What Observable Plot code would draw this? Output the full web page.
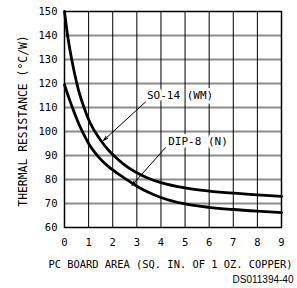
<!DOCTYPE html>
<html>
<head>
<meta charset="utf-8">
<script src="https://cdn.jsdelivr.net/npm/d3@7"></script>
<script src="https://cdn.jsdelivr.net/npm/@observablehq/plot@0.6"></script>
<style>
  html, body { margin: 0; padding: 0; background: white; }
</style>
</head>
<body>
<div id="chart"></div>
<script>
// Data
const so14X = [0, 0.1, 0.2, 0.3, 0.4, 0.5, 0.6, 0.8, 1, 1.2, 1.4, 1.6, 1.8, 2, 2.5, 3, 3.5, 4, 5, 6, 7, 8, 9];
const so14Y = [150, 142, 135.5, 130, 125, 120.5, 116.5, 110.3, 105, 101, 97.8, 95, 92.5, 90.4, 86, 82.8, 80.4, 78.7, 76.5, 75.2, 74.3, 73.6, 73];
const dipX = [0, 0.2, 0.4, 0.6, 0.8, 1, 1.2, 1.4, 1.6, 1.8, 2, 2.5, 3, 3.5, 4, 5, 6, 7, 8, 9];
const dipY = [119.5, 113.5, 108, 103, 98.8, 95, 92, 89.5, 87.4, 85.6, 84, 80.5, 77.2, 74.6, 72.5, 69.8, 68.4, 67.5, 66.8, 66.2];
const xTicks = [0, 1, 2, 3, 4, 5, 6, 7, 8, 9];
const yTicks = [60, 70, 80, 90, 100, 110, 120, 130, 140, 150];
const seriesNames = ["SO-14 (WM)", "DIP-8 (N)"];
const xLabel = "PC BOARD AREA (SQ. IN. OF 1 OZ. COPPER)";
const yLabel = "THERMAL RESISTANCE (°C/W)";
const docCode = "DS011394-40";

const so14 = so14X.map((x, i) => ({x, y: so14Y[i]}));
const dip = dipX.map((x, i) => ({x, y: dipY[i]}));
const annotations = [
  {text: seriesNames[0], x: 3.42, y: 115, x1: 3.36, y1: 112.3, x2: 1.62, y2: 96.3},
  {text: seriesNames[1], x: 4.3, y: 96, x1: 4.19, y1: 93.3, x2: 2.8, y2: 77.6}
];

const mono = "'DejaVu Sans Mono', monospace";

const chart = Plot.plot({
  width: 297,
  height: 288,
  marginLeft: 64,
  marginTop: 11,
  marginRight: 16,
  marginBottom: 61,
  style: {fontFamily: mono, fontSize: "10.5px", color: "black", background: "white"},
  x: {domain: [0, 9]},
  y: {domain: [60, 150]},
  marks: [
    Plot.ruleY(yTicks.slice(1, -1), {stroke: "#8c8c8c", strokeWidth: 2}),
    Plot.ruleX(xTicks.slice(1, -1), {stroke: "black", strokeWidth: 1}),
    Plot.frame({stroke: "black", strokeWidth: 1.5}),
    Plot.axisX({ticks: xTicks, tickSize: 0, tickPadding: 11, label: null, fontSize: 10.5}),
    Plot.axisY({ticks: yTicks, tickSize: 0, tickPadding: 7, label: null, fontSize: 10.5}),
    Plot.line(so14, {x: "x", y: "y", curve: "monotone-x", stroke: "black", strokeWidth: 2.8}),
    Plot.line(dip, {x: "x", y: "y", curve: "monotone-x", stroke: "black", strokeWidth: 2.8}),
    Plot.text(annotations, {x: "x", y: "y", text: "text", textAnchor: "start", lineAnchor: "middle",
      fill: "black", stroke: "white", strokeWidth: 6, fontSize: 11}),
    Plot.arrow(annotations, {x1: "x1", y1: "y1", x2: "x2", y2: "y2", stroke: "black",
      strokeWidth: 1, headLength: 7, headAngle: 35, insetStart: 0, insetEnd: 0}),
    Plot.text([xLabel], {text: d => d, frameAnchor: "bottom", textAnchor: "middle", dx: -2.5, dy: 37,
      lineAnchor: "middle", fontSize: 10.4}),
    Plot.text([yLabel], {text: d => d, frameAnchor: "left", textAnchor: "middle", rotate: -90, dx: -41, dy: 1.5,
      lineAnchor: "middle", fontSize: 11.4}),
    Plot.text([docCode], {text: d => d, frameAnchor: "bottom-right", textAnchor: "end", dx: 12, dy: 52.5,
      lineAnchor: "middle", fontSize: 10, fontFamily: "'Liberation Sans', Arial, sans-serif"})
  ]
});
document.getElementById("chart").appendChild(chart);
</script>
</body>
</html>
